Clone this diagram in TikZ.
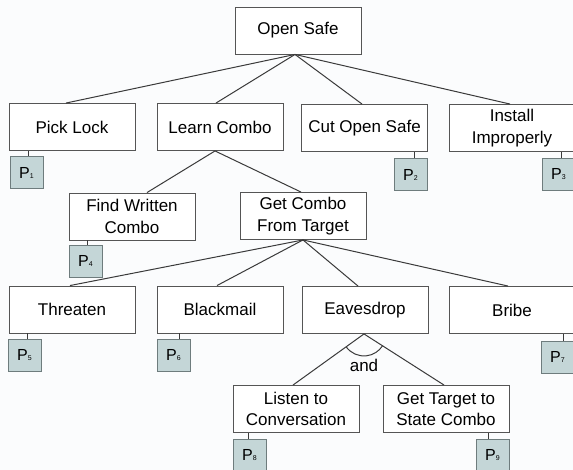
\documentclass[tikz,border=0pt]{standalone}
\usepackage{fontspec}
\setmainfont{Liberation Sans}
\usetikzlibrary{calc}
\definecolor{bg}{HTML}{FBFCFD}
\definecolor{pfill}{HTML}{C4D6D7}
\definecolor{pline}{HTML}{6E7C7D}
\definecolor{bline}{HTML}{555555}
\definecolor{eline}{HTML}{3A3A3A}
\newcommand\plab[1]{{\fontsize{16}{16}\selectfont P}{\fontsize{7}{7}\selectfont #1}}
\tikzset{
  box/.style={draw=bline, line width=0.9pt, fill=white, minimum width=126pt, minimum height=47pt,
    inner sep=0pt, align=center, font=\fontsize{17}{21.5}\selectfont},
  pbox/.style={draw=pline, line width=0.9pt, fill=pfill, minimum width=33pt, minimum height=32pt, inner sep=0pt},
  edge/.style={draw=eline, line width=1pt},
  andtext/.style={font=\fontsize{17}{20}\selectfont, inner sep=0pt},
}
\begin{document}
\begin{tikzpicture}[x=1pt,y=-1pt]
\useasboundingbox (0,0) rectangle (573,470);
\fill[bg] (0,0) rectangle (573,470);
% level 1
\node[box] (root) at (298,30.5) {Open Safe};
\node[box] (pick) at (72,127) {Pick Lock};
\node[box] (learn) at (220,127) {Learn Combo};
\node[box] (cut) at (364.5,128) {Cut Open Safe};
\node[box] (install) at (512,128) {Install\\Improperly};
\node[pbox] (p1) at (26.5,172.5) {\plab{1}};
\node[pbox] (p2) at (410.5,174.5) {\plab{2}};
\node[pbox] (p3) at (558.5,174.5) {\plab{3}};
% level 2
\node[box] (fwc) at (132,216.5) {Find Written\\Combo};
\node[box] (gct) at (303,216) {Get Combo\\From Target};
\node[pbox] (p4) at (85.5,261) {\plab{4}};
% level 3
\node[box] (threaten) at (72,309.5) {Threaten};
\node[box] (blackmail) at (220,309.5) {Blackmail};
\node[box] (eaves) at (365,310) {Eavesdrop};
\node[box] (bribe) at (512,310) {Bribe};
\node[pbox] (p5) at (24.5,355.5) {\plab{5}};
\node[pbox] (p6) at (173.5,355.5) {\plab{6}};
\node[pbox] (p7) at (557.5,357) {\plab{7}};
% level 4
\node[box] (listen) at (296,409) {Listen to\\Conversation};
\node[box] (gtsc) at (446,409) {Get Target to\\State Combo};
\node[pbox] (p8) at (249.5,455) {\plab{8}};
\node[pbox] (p9) at (492.5,455) {\plab{9}};
% tree edges
\draw[edge] ([xshift=-3pt]root.south) -- ([xshift=-6pt]pick.north);
\draw[edge] ([xshift=-3pt]root.south) -- ([xshift=-4pt]learn.north);
\draw[edge] ([xshift=-3pt]root.south) -- ([xshift=-2.5pt]cut.north);
\draw[edge] ([xshift=-3pt]root.south) -- ([xshift=-2pt]install.north);
\draw[edge] ([xshift=-5pt]learn.south) -- ([xshift=15pt]fwc.north);
\draw[edge] ([xshift=-5pt]learn.south) -- ([xshift=-2pt]gct.north);
\draw[edge] (gct.south) -- ([xshift=-2pt]threaten.north);
\draw[edge] (gct.south) -- ([xshift=-3pt]blackmail.north);
\draw[edge] (gct.south) -- ([xshift=-7pt]eaves.north);
\draw[edge] (gct.south) -- ([xshift=-4pt]bribe.north);
\coordinate (eapex) at ([xshift=-1pt]eaves.south);
\draw[edge] (eapex) -- ([xshift=-3pt]listen.north);
\draw[edge] (eapex) -- ([xshift=-2pt]gtsc.north);
\draw[edge] ($(eapex)+(143.9:22)$) arc[start angle=143.9, end angle=32.2, radius=22];
\node[andtext] (andlbl) at (364,365) {and};
% P connectors
\draw[edge] ([xshift=1.5pt]p1.north) -- ([xshift=1.5pt]p1.north |- pick.south);
\draw[edge] ([xshift=3.5pt]p2.north) -- ([xshift=3.5pt]p2.north |- cut.south);
\draw[edge] ([xshift=2.5pt]p3.north) -- ([xshift=2.5pt]p3.north |- install.south);
\draw[edge] ([xshift=1.5pt]p4.north) -- ([xshift=1.5pt]p4.north |- fwc.south);
\draw[edge] ([xshift=2.5pt]p5.north) -- ([xshift=2.5pt]p5.north |- threaten.south);
\draw[edge] ([xshift=5.5pt]p6.north) -- ([xshift=5.5pt]p6.north |- blackmail.south);
\draw[edge] ([xshift=5.5pt]p7.north) -- ([xshift=5.5pt]p7.north |- bribe.south);
\draw[edge] ([xshift=-1.5pt]p8.north) -- ([xshift=-1.5pt]p8.north |- listen.south);
\draw[edge] ([xshift=-4.5pt]p9.north) -- ([xshift=-4.5pt]p9.north |- gtsc.south);
\end{tikzpicture}
\end{document}
